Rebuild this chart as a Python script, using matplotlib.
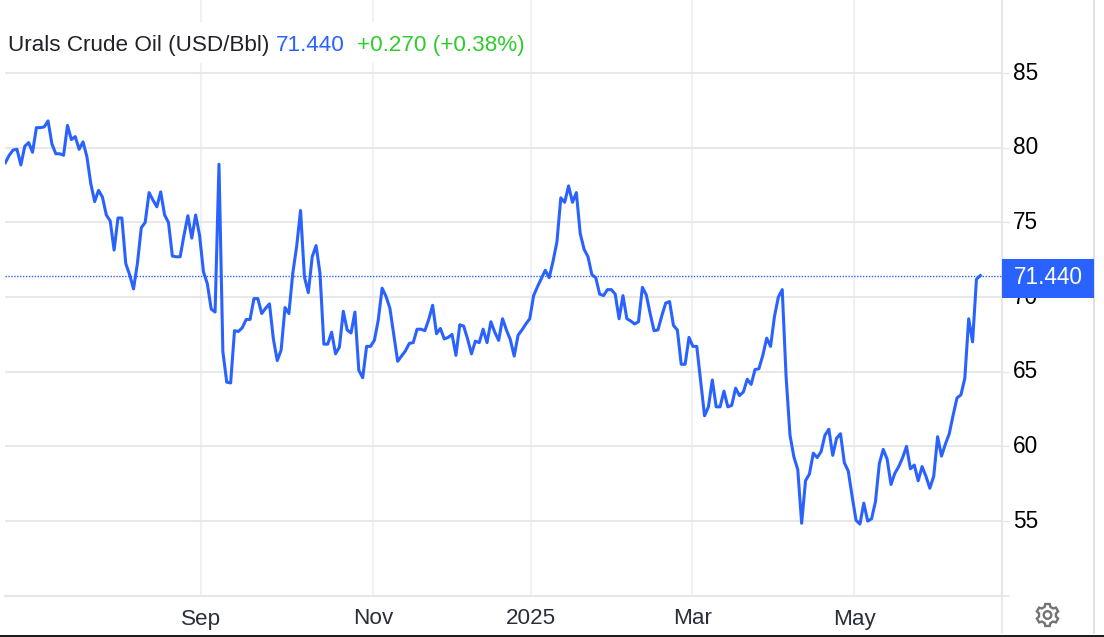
import numpy as np
import matplotlib
matplotlib.use('Agg')
import matplotlib.pyplot as plt
from matplotlib.patches import Rectangle, Polygon, Circle
from matplotlib.transforms import ScaledTranslation

plt.rcParams['font.family'] = ['Liberation Sans', 'DejaVu Sans']

# price per trading day
prices_aug = [79.0, 79.5, 79.85, 79.9, 78.85, 80.1, 80.35, 79.7, 81.35, 81.35, 81.4, 81.8, 80.25, 79.6, 79.6, 79.5,
              81.5, 80.55, 80.75, 79.9, 80.4, 79.4, 77.6, 76.4, 77.15, 76.7, 75.5, 75.1, 73.15, 75.3, 75.3, 72.25,
              71.5, 70.55, 72.25, 74.65, 75.0, 77.0, 76.5, 76.05, 77.05, 75.5, 75.0, 72.75, 72.7, 72.7, 74.15,
              75.45, 73.95, 75.5, 74.15, 71.7, 70.9, 69.2, 69.0, 78.9, 66.35, 64.3, 64.25, 67.75, 67.7, 67.95,
              68.5, 68.5, 69.9, 69.9, 68.9, 69.25, 69.55, 67.2, 65.75, 66.45, 69.3, 68.9, 71.6, 73.4, 75.8, 71.35,
              70.3, 72.7, 73.45, 71.6, 66.85, 66.85, 67.65, 66.2, 66.65]
prices_nov = [69.05, 67.8, 67.6, 69.0, 65.1, 64.6, 66.7, 66.7, 67.1, 68.45, 70.6, 70.05, 69.25, 67.45, 65.7, 66.05,
              66.4, 66.9, 66.95, 67.85, 67.85, 67.75, 68.5, 69.45, 67.55, 67.9, 67.2, 67.3, 67.5, 66.1, 68.15,
              68.05, 67.2, 66.2, 67.05, 66.95, 67.85, 66.95, 68.35, 67.65, 67.1, 68.55, 67.8, 67.15, 66.05, 67.45,
              67.8, 68.2, 68.55, 70.1, 70.7, 71.25, 71.8, 71.3, 72.4, 73.7, 76.65, 76.35, 77.45, 76.35, 77.0,
              74.25, 73.2, 72.7, 71.5, 71.3, 70.2, 70.1, 70.5, 70.5, 70.2, 68.55, 70.1, 68.55, 68.4, 68.2, 68.35,
              70.65, 70.15, 68.9, 67.75, 67.8, 68.75, 69.6, 69.7, 68.1, 67.8]
prices_mar = [65.5, 65.5, 67.3, 66.7, 66.7, 64.35, 62.05, 62.65, 64.45, 62.65, 62.65, 63.7, 62.65, 62.75, 63.9, 63.4,
              63.65, 64.5, 64.15, 65.15, 65.2, 66.1, 67.25, 66.7, 68.7, 70.0, 70.5, 64.65, 60.75, 59.3, 58.45,
              54.85, 57.7, 58.15, 59.55, 59.25, 59.65, 60.75, 61.15, 59.4, 60.55, 60.85, 58.9, 58.35, 56.65,
              55.05, 54.8, 56.2, 55.0, 55.15, 56.3, 58.85, 59.8, 59.15, 57.45, 58.2, 58.65, 59.25, 60.0, 58.5,
              58.75, 57.7, 58.65, 58.0, 57.2, 58.0, 60.65, 59.35, 60.15, 60.85, 62.1, 63.25, 63.45, 64.55, 68.55,
              67.0, 71.2, 71.44]
prices = prices_aug + prices_nov + prices_mar

y_ticks = [55, 60, 65, 70, 75, 80, 85]
x_tick_pos = [50.4, 94.6, 135.2, 176.9, 218.6]
x_tick_labels = ['Sep', 'Nov', '2025', 'Mar', 'May']
last_price = 71.44
last_label = '71.440'
change_label = '+0.270 (+0.38%)'
title = 'Urals Crude Oil (USD/Bbl)'

W, H = 1104, 637
BLUE = '#2962ff'
GRID = '#e6e6e6'

def fx(px):
    return px / W

def fy(py):
    return 1 - py / H

fig = plt.figure(figsize=(W / 100, H / 100), dpi=100)
ax = fig.add_axes([fx(5), fy(596), fx(1001.7) - fx(5), fy(0) - fy(596)])
ax.set_xlim(-0.085, 256.5)
ax.set_ylim(49.98, 89.9)

ax.plot(np.arange(len(prices)), prices, color=BLUE, lw=2.2, solid_joinstyle='round', zorder=4)
ax.axhline(last_price, color=BLUE, lw=1.0, ls=(0, (1, 1.1)), zorder=3)

ax.set_yticks(y_ticks)
ax.set_xticks(x_tick_pos)
ax.set_xticklabels(x_tick_labels)
ax.yaxis.tick_right()
ax.tick_params(axis='y', length=5, width=1, color=GRID, pad=3, labelsize=16.3, labelcolor='#000000')
ax.tick_params(axis='x', length=0, pad=9, labelsize=16.2, labelcolor='#2a2e39')
ax.grid(axis='y', color=GRID, lw=1.3, zorder=1)
ax.grid(axis='x', color='#eef2f6', lw=1.5, zorder=1)
ax.set_axisbelow(True)
for s in ['top', 'left']:
    ax.spines[s].set_visible(False)
ax.spines['bottom'].set_color(GRID)
ax.spines['bottom'].set_linewidth(1.5)
ax.spines['right'].set_color(GRID)
ax.spines['right'].set_linewidth(1.5)

# y labels sit a little above their grid lines
for lab in ax.get_yticklabels():
    lab.set_transform(lab.get_transform() + ScaledTranslation(0, 2.5 / 100, fig.dpi_scale_trans))

# white strip behind the title hides the vertical grid
fig.add_artist(Rectangle((fx(5), fy(63)), fx(530) - fx(5), fy(22) - fy(63), transform=fig.transFigure,
                         fc='white', ec='none', zorder=1))
fig.text(fx(8), fy(51), title, fontsize=16.2, color='#20222a', zorder=3)
fig.text(fx(275.5), fy(51), last_label, fontsize=16.2, color=BLUE, zorder=3)
fig.text(fx(357), fy(51), change_label, fontsize=16.2, color='#2ecc2e', zorder=3)

# price label on the right
fig.add_artist(Rectangle((fx(1002), fy(298)), fx(1094) - fx(1002), fy(259) - fy(298), transform=fig.transFigure,
                         fc=BLUE, ec='none', zorder=2))
fig.text(fx(1048), fy(278), last_label, fontsize=16.3, color='white', ha='center', va='center', zorder=3)

# frame lines outside the axes
fig.add_artist(plt.Line2D([fx(1094), fx(1094)], [fy(633), fy(0)], color='#dcdcdc', lw=1.2, zorder=1))
fig.add_artist(plt.Line2D([fx(1001.7), fx(1001.7)], [fy(633), fy(596)], color=GRID, lw=1.2, zorder=1))
fig.add_artist(plt.Line2D([fx(1002), fx(1009)], [fy(595.5), fy(595.5)], color=GRID, lw=1.2, zorder=1))
fig.add_artist(Rectangle((0, 0), 1, fy(635), transform=fig.transFigure, fc='#1c1c1c', ec='none', zorder=1))

# settings gear, drawn in pixels
cx, cy = 1047.5, 615
teeth = 6
ang = []
rad = []
for k in range(teeth):
    a = 2 * np.pi * k / teeth - np.pi / 2
    ang += [a - 0.34, a - 0.2, a + 0.2, a + 0.34]
    rad += [8.6, 11.2, 11.2, 8.6]
ang = np.array(ang)
rad = np.array(rad)
pts = np.column_stack([cx + rad * np.cos(ang), H - (cy + rad * np.sin(ang))])
fig.add_artist(Polygon(pts, closed=True, transform=None, fc='white', ec='#737373', lw=1.7, zorder=2))
fig.add_artist(Circle((cx, H - cy), 3.8, transform=None, fc='white', ec='#737373', lw=1.7, zorder=2))

fig.savefig('out.png', dpi=100)
